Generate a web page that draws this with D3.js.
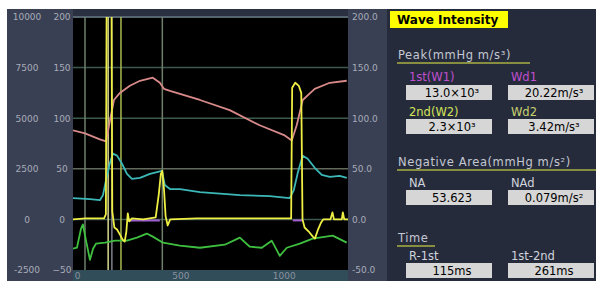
<!DOCTYPE html>
<html>
<head>
<meta charset="utf-8">
<script src="https://cdn.jsdelivr.net/npm/d3@7/dist/d3.min.js"></script>
<style>
  body { margin: 0; background: #fff; }
  svg { display: block; }
</style>
</head>
<body>
<svg id="chart" width="600" height="283"></svg>
<script>
// ---- data: [time ms, value in left-axis units] ----
const pressure = [[0,88],[58,85],[130,79],[160,77],[179,98],[198,118],[227,125],[275,132],[324,137],[386,140],
  [420,135],[440,129],[469,127],[614,118],[758,108],[903,93],[1024,83],[1058,78],[1082,93],[1111,118],
  [1169,129],[1242,135],[1324,137]];
const flow = [[0,21],[82,20],[130,19],[145,24],[159,38],[179,56],[193,65],[213,63],[237,55],[261,45],
  [285,40],[324,41],[372,45],[411,47],[430,48],[444,34],[469,30],[517,30],[614,27],[807,24],[952,23],
  [1048,21],[1068,29],[1087,46],[1111,63],[1135,60],[1169,51],[1203,44],[1242,42],[1290,43],[1324,41]];
const accel = [[0,-29],[19,-28],[39,-9],[48,-5],[63,-21],[82,-40],[97,-29],[111,-24],[155,-23],[203,-21],
  [261,-21],[309,-18],[357,-14],[386,-17],[435,-23],[517,-26],[614,-28],[734,-25],[807,-18],[855,-27],
  [913,-28],[961,-21],[1000,-36],[1034,-28],[1097,-24],[1159,-19],[1256,-16],[1324,-23]];
const intensity = [[0,0],[60,1],[150,1],[159,5],[163,230],[175,240],[186,230],[190,8],[200,-8],[213,-10],
  [227,-15],[240,-20],[250,-22],[258,-12],[265,6],[272,-2],[285,1],[340,0],[400,2],[415,25],[425,45],
  [432,48],[440,30],[448,3],[458,-6],[470,0],[600,1],[800,1],[1055,1],[1060,130],[1075,135],[1092,132],
  [1104,125],[1110,0],[1120,-8],[1140,-12],[1160,-17],[1170,-19],[1185,-10],[1200,-3],[1210,0],[1245,0],
  [1255,7],[1262,0],[1300,0],[1305,7],[1312,0],[1330,0]];
const negSegments = [[261, 420], [1063, 1111]];
const markerTimes = [58, 170, 188, 232, 432];

const innerTicks = [-50, 0, 50, 100, 150, 200];
const outerTickLabels = ["-2500", "0", "2500", "5000", "7500", "10000"];
const rightTickLabels = ["-50.0", "0.0", "50.0", "100.0", "150.0", "200.0"];
const timeTicks = [0, 500, 1000];
const gridValues = [0, 50, 100, 150];

const peakLabels = ["1st(W1)", "Wd1", "2nd(W2)", "Wd2"];
const peakValues = ["13.0×10³", "20.22m/s³", "2.3×10³", "3.42m/s³"];
const naLabels = ["NA", "NAd"];
const naValues = ["53.623", "0.079m/s²"];
const timeLabels = ["R-1st", "1st-2nd"];
const timeValues = ["115ms", "261ms"];

// ---- layout ----
const plot = { left: 73, right: 348, top: 17, bottom: 270 };
const font = "'DejaVu Sans', sans-serif";
const svg = d3.select("#chart");

const x = d3.scaleLinear().domain([0, 1330]).range([plot.left, plot.right]);
const y = d3.scaleLinear().domain([-50, 200]).range([plot.bottom, plot.top]);

// panels
svg.append("rect").attr("x", 7).attr("y", 9).attr("width", 589).attr("height", 272).attr("fill", "#2a3040");
svg.append("rect").attr("x", 7).attr("y", 9).attr("width", plot.left - 7).attr("height", 272).attr("fill", "#394054");
svg.append("rect").attr("x", plot.right).attr("y", 9).attr("width", 39).attr("height", 272).attr("fill", "#394054");
svg.append("rect").attr("x", 387).attr("y", 9).attr("width", 209).attr("height", 272).attr("fill", "#262b3c");
svg.append("rect").attr("x", plot.left).attr("y", plot.bottom).attr("width", plot.right - plot.left)
  .attr("height", 11).attr("fill", "#314d59");
svg.append("rect").attr("x", plot.left).attr("y", plot.top).attr("width", plot.right - plot.left)
  .attr("height", plot.bottom - plot.top).attr("fill", "#000");

svg.append("clipPath").attr("id", "clip").append("rect")
  .attr("x", plot.left).attr("y", plot.top).attr("width", plot.right - plot.left).attr("height", plot.bottom - plot.top);

// grid
svg.append("line").attr("x1", plot.left).attr("x2", plot.right).attr("y1", y(200)).attr("y2", y(200))
  .attr("stroke", "#566670").attr("stroke-width", 2);
svg.append("g").selectAll("line").data(gridValues).join("line")
  .attr("x1", plot.left).attr("x2", plot.right)
  .attr("y1", d => y(d)).attr("y2", d => y(d))
  .attr("stroke", d => d === 50 ? "#626a5c" : "#3c5a4c").attr("stroke-width", 1.5);

// vertical markers
const markerColors = ["#6f7f6c", "#d8d890", "#80808c", "#a8b850", "#6f7f6c"];
svg.append("g").selectAll("line").data(markerTimes).join("line")
  .attr("x1", d => x(d)).attr("x2", d => x(d))
  .attr("y1", plot.top).attr("y2", plot.bottom)
  .attr("stroke", (d, i) => markerColors[i]).attr("stroke-width", 1.5);

// curves
const line = d3.line().x(d => x(d[0])).y(d => y(d[1]));
const curves = svg.append("g").attr("clip-path", "url(#clip)");
curves.selectAll("line.neg").data(negSegments).join("line").attr("class", "neg")
  .attr("x1", d => x(d[0])).attr("x2", d => x(d[1]))
  .attr("y1", y(-1)).attr("y2", y(-1))
  .attr("stroke", "#a060d0").attr("stroke-width", 2);
[[accel, "#3fbf3f"], [flow, "#3cb8b8"], [pressure, "#d88a8a"], [intensity, "#eeee44"]].forEach(([data, color]) => {
  curves.append("path").datum(data).attr("d", line)
    .attr("fill", "none").attr("stroke", color).attr("stroke-width", 1.8)
    .attr("stroke-linejoin", "round");
});

// axes
const axisText = sel => sel.selectAll("text")
  .attr("fill", "#a8acb8").style("font-family", font).style("font-size", "9px");

const innerAxis = svg.append("g").attr("transform", `translate(${plot.left},0)`)
  .call(d3.axisLeft(y).tickValues(innerTicks).tickSize(0).tickPadding(0));
innerAxis.call(axisText);
innerAxis.selectAll("text").attr("text-anchor", "middle").attr("x", -11);

const outerAxis = svg.append("g").attr("transform", `translate(${plot.left},0)`)
  .call(d3.axisLeft(y).tickValues(innerTicks).tickSize(0).tickFormat((d, i) => outerTickLabels[i]));
outerAxis.call(axisText);
outerAxis.selectAll("text").attr("text-anchor", "middle").attr("x", -46);

const rightAxis = svg.append("g").attr("transform", `translate(${plot.right},0)`)
  .call(d3.axisRight(y).tickValues(innerTicks).tickSize(0).tickPadding(4).tickFormat((d, i) => rightTickLabels[i]));
rightAxis.call(axisText);

const bottomAxis = svg.append("g").attr("transform", `translate(0,${plot.bottom})`)
  .call(d3.axisBottom(x).tickValues(timeTicks).tickSize(0).tickPadding(3).tickFormat(d3.format("d")));
bottomAxis.call(axisText);
bottomAxis.selectAll("text").attr("fill", "#8a92a0").attr("dx", 4);
svg.selectAll(".domain").remove();

// ---- right info panel ----
const info = svg.append("g").style("font-family", font);
info.append("rect").attr("x", 390).attr("y", 11).attr("width", 118).attr("height", 17).attr("fill", "#ffff00");
info.append("text").attr("x", 397).attr("y", 24).attr("fill", "#000").style("font-size", "12px")
  .style("font-weight", "bold").text("Wave Intensity");

function heading(txt, yBase, lineEnd) {
  info.append("text").attr("x", 398).attr("y", yBase).attr("fill", "#c4c8d2")
    .style("font-size", "11.5px").style("letter-spacing", "0.6px").text(txt);
  info.append("line").attr("x1", 397).attr("x2", lineEnd).attr("y1", yBase + 4).attr("y2", yBase + 4)
    .attr("stroke", "#a8b040").attr("stroke-width", 1.5);
}
function row(labels, values, labelY, boxY, labelColors) {
  const cols = [406, 508];
  labels.forEach((lab, i) => {
    info.append("text").attr("x", cols[i] + 3).attr("y", labelY).attr("fill", labelColors[i])
      .style("font-size", "11.5px").text(lab);
    info.append("rect").attr("x", cols[i]).attr("y", boxY).attr("width", 86).attr("height", 15)
      .attr("fill", "#d6d6d6");
    info.append("text").attr("x", cols[i] + 46).attr("y", boxY + 12).attr("text-anchor", "middle")
      .attr("fill", "#000").style("font-size", "11.5px").text(values[i]);
  });
}

heading("Peak(mmHg m/s³)", 59, 530);
row(peakLabels.slice(0, 2), peakValues.slice(0, 2), 81, 85, ["#c050d0", "#c050d0"]);
row(peakLabels.slice(2), peakValues.slice(2), 116, 119, ["#d4e458", "#c8d070"]);
heading("Negative Area(mmHg m/s²)", 166, 596);
row(naLabels, naValues, 187, 190, ["#d0d4dc", "#d0d4dc"]);
heading("Time", 242, 435);
row(timeLabels, timeValues, 260, 263, ["#d0d4dc", "#d0d4dc"]);
</script>
</body>
</html>
